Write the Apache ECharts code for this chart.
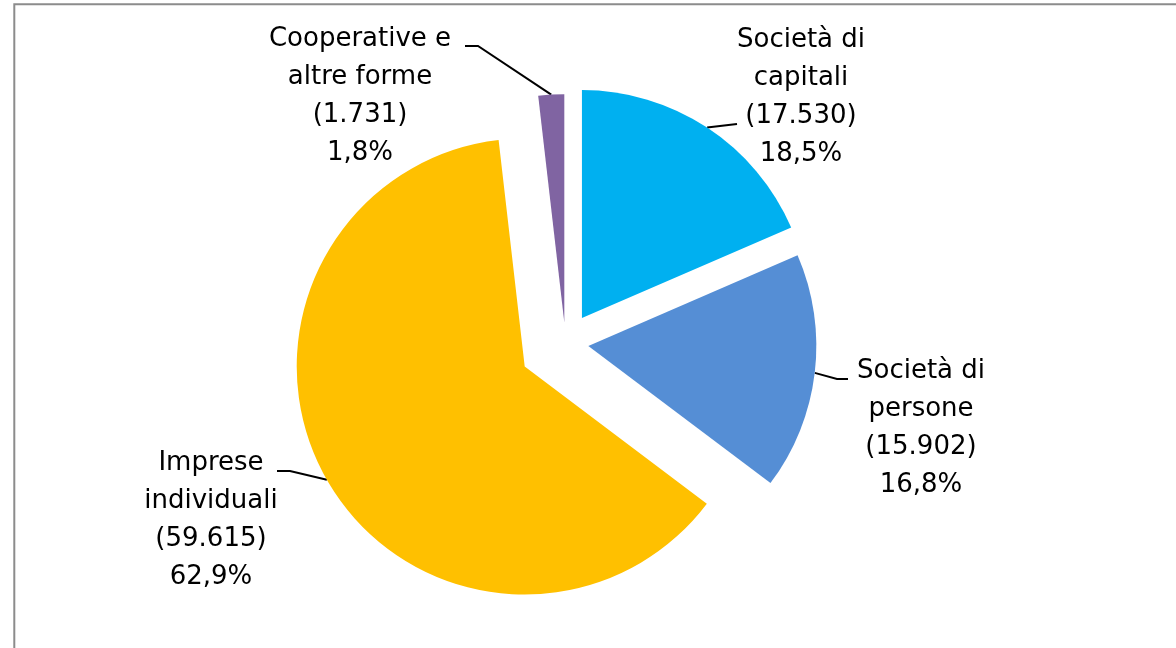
<!DOCTYPE html>
<html>
<head>
<meta charset="utf-8">
<script src="https://cdn.jsdelivr.net/npm/echarts@6/dist/echarts.min.js"></script>
<style>
html,body{margin:0;padding:0;background:#fff;}
#chart{width:1176px;height:648px;}
</style>
</head>
<body>
<div id="chart"></div>
<script>
// ---- data ----
const categories = ['Società di capitali', 'Società di persone', 'Imprese individuali', 'Cooperative e altre forme'];
const labelLineA = ['Società di', 'Società di', 'Imprese', 'Cooperative e'];
const labelLineB = ['capitali', 'persone', 'individuali', 'altre forme'];
const values = [17530, 15902, 59615, 1731];

// ---- style / layout ----
const colors = ['#00B0F0', '#558ED5', '#FFC000', '#8064A2'];
const PIE_CENTER = [565.5, 343.2];
const RADIUS = 228;
const EXPLODE = [30, 23, 47, 21];
const LABEL_POS = [[801, 97], [921, 428], [211, 520], [360, 96]];
const LEADER = [
  [[737, 124], [737, 124]],
  [[837, 379], [848, 379]],
  [[290, 471], [277, 471]],
  [[478, 46], [465, 46]]
];

const total = values.reduce((a, b) => a + b, 0);
function fmtInt(v) { return String(v).replace(/\B(?=(\d{3})+(?!\d))/g, '.'); }
function fmtPct(v) { return (v / total * 100).toFixed(1).replace('.', ',') + '%'; }

// mid-angle direction (clockwise from 12 o'clock)
const dirs = [];
let cum = 0;
values.forEach(v => {
  const th = 2 * Math.PI * (cum + v / 2) / total;
  dirs.push([Math.sin(th), -Math.cos(th)]);
  cum += v;
});
const centers = dirs.map((u, i) => [PIE_CENTER[0] + EXPLODE[i] * u[0], PIE_CENTER[1] + EXPLODE[i] * u[1]]);
const arcPts = dirs.map((u, i) => [centers[i][0] + RADIUS * u[0], centers[i][1] + RADIUS * u[1]]);

const series = values.map((_, s) => ({
  type: 'pie',
  radius: RADIUS,
  center: centers[s],
  startAngle: 90,
  clockwise: true,
  avoidLabelOverlap: false,
  silent: true,
  animation: false,
  itemStyle: { borderWidth: 0 },
  label: { show: false },
  labelLine: { show: false },
  emphasis: { disabled: true },
  data: categories.map((name, i) => ({
    name: name,
    value: values[i],
    itemStyle: { color: i === s ? colors[i] : 'rgba(0,0,0,0)', borderWidth: 0 },
    label: i === s ? {
      show: true,
      position: 'outside',
      formatter: () => labelLineA[i] + '\n' + labelLineB[i] + '\n(' + fmtInt(values[i]) + ')\n' + fmtPct(values[i]),
      color: '#000',
      fontFamily: 'DejaVu Sans',
      fontSize: 26,
      lineHeight: 38,
      align: 'center'
    } : { show: false },
    labelLine: i === s ? { show: true, lineStyle: { color: '#000', width: 2 } } : { show: false }
  })),
  labelLayout: function (p) {
    if (p.dataIndex !== s) return {};
    return {
      x: LABEL_POS[s][0],
      y: LABEL_POS[s][1],
      align: 'center',
      verticalAlign: 'middle',
      labelLinePoints: [arcPts[s], LEADER[s][0], LEADER[s][1]]
    };
  }
}));

const chart = echarts.init(document.getElementById('chart'), null, { renderer: 'canvas' });
chart.setOption({
  backgroundColor: '#fff',
  animation: false,
  graphic: [{
    type: 'rect',
    silent: true,
    shape: { x: 14.3, y: 4.2, width: 1400, height: 900 },
    style: { fill: 'none', stroke: '#8c8c8c', lineWidth: 2 }
  }],
  series: series
});
</script>
</body>
</html>
